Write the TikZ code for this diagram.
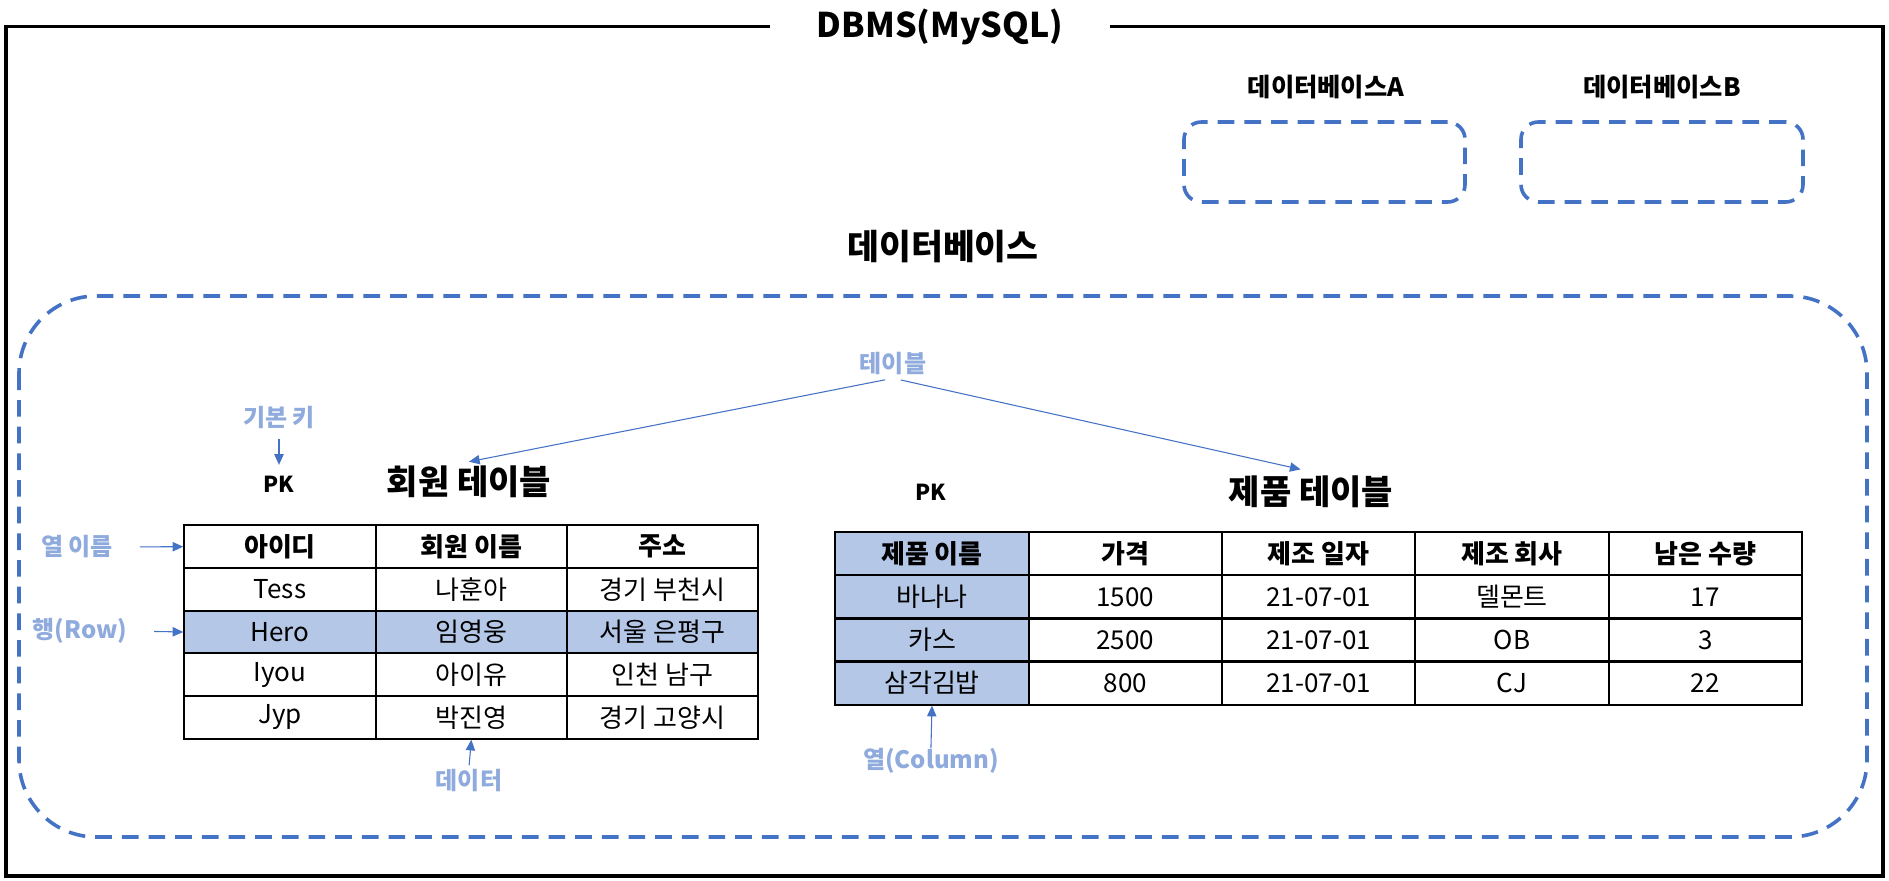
\documentclass[tikz,border=0pt]{standalone}
\usepackage{fontspec}
\setmainfont{Noto Sans CJK KR}
\usetikzlibrary{arrows.meta,matrix}
\definecolor{dashblue}{HTML}{4472C4}
\definecolor{lblue}{HTML}{8FAADC}
\definecolor{cellblue}{HTML}{B4C7E7}
\tikzset{
  dbox/.style={draw=dashblue, line width=2.7pt, dash pattern=on 12.5pt off 7.5pt, rounded corners=13pt},
  bigbox/.style={draw=dashblue, line width=2.7pt, dash pattern=on 12.5pt off 7.5pt, rounded corners=58pt},
  lbl/.style={text=lblue, font=\bfseries\fontsize{18}{21}\selectfont, inner sep=2pt},
  hdr/.style={font=\bfseries\fontsize{19}{22}\selectfont, inner sep=2pt},
  ttl/.style={font=\bfseries\fontsize{25.5}{29}\selectfont, inner sep=3pt},
  pklbl/.style={font=\bfseries\fontsize{16.5}{18}\selectfont, inner sep=2pt},
  arr/.style={draw=dashblue, line width=0.8pt, -{Triangle[length=8pt,width=7pt]}},
  cellA/.style={draw, line width=1.6pt, minimum width=143.5pt, minimum height=32pt, inner sep=0pt, anchor=center, font=\fontsize{19.5}{22}\selectfont},
  cellB/.style={draw, line width=1.6pt, minimum width=145pt, minimum height=32.3pt, inner sep=0pt, anchor=center, font=\fontsize{19.5}{22}\selectfont},
  hrow/.style={nodes={font=\bfseries\fontsize{19.5}{22}\selectfont}},
}
\begin{document}
\begin{tikzpicture}[x=0.75pt, y=-0.75pt]
\useasboundingbox (0,0) rectangle (1889,881);
% outer frame
\draw[line width=2.7pt] (6,26.5) rectangle (1883,876);
\node[fill=white, inner xsep=35pt, inner ysep=2pt, font=\bfseries\fontsize{25.5}{30}\selectfont] (title) at (940,26.5) {DBMS(MySQL)};
% databases A / B
\node[hdr] (dbA) at (1326,87) {데이터베이스A};
\node[hdr] (dbB) at (1662,87) {데이터베이스B};
\node[dbox, minimum width=210.75pt, minimum height=60pt] (boxA) at (1324.5,162) {};
\node[dbox, minimum width=211.5pt, minimum height=60pt] (boxB) at (1662,162) {};
% main database
\node[font=\bfseries\fontsize{26}{30}\selectfont] (db) at (943,247) {데이터베이스};
\draw[bigbox] (19,296) rectangle (1867,837);
% labels
\node[lbl] (tl) at (893,364) {테이블};
\node[lbl] (kk) at (279,417) {기본 키};
\node[pklbl] (pk1) at (279,484) {PK};
\node[ttl] (t1t) at (469,482) {회원 테이블};
\node[pklbl] (pk2) at (931,492) {PK};
\node[ttl] (t2t) at (1311,492) {제품 테이블};
\node[lbl] (cn) at (77,547) {열 이름};
\node[lbl] (rw) at (80,631) {행(Row)};
\node[lbl] (dt) at (469,781) {데이터};
\node[lbl] (col) at (931,761) {열(Column)};
% table 1
\matrix (ta) [matrix of nodes, anchor=north west, inner sep=0pt, column sep=-1.6pt, row sep=-1.6pt,
  nodes={cellA}, row 1/.style={hrow},
  row 3/.style={nodes={fill=cellblue}}] at (183,524) {
  아이디 & 회원 이름 & 주소 \\
  Tess & 나훈아 & 경기 부천시 \\
  Hero & 임영웅 & 서울 은평구 \\
  Iyou & 아이유 & 인천 남구 \\
  Jyp & 박진영 & 경기 고양시 \\
};
% table 2
\matrix (tb) [matrix of nodes, anchor=north west, inner sep=0pt, column sep=-1.6pt, row sep=-1.6pt,
  nodes={cellB}, row 1/.style={hrow},
  column 1/.style={nodes={fill=cellblue}}] at (834,531) {
  제품 이름 & 가격 & 제조 일자 & 제조 회사 & 남은 수량 \\
  바나나 & 1500 & 21-07-01 & 델몬트 & 17 \\
  카스 & 2500 & 21-07-01 & OB & 3 \\
  삼각김밥 & 800 & 21-07-01 & CJ & 22 \\
};
% arrows
\draw[arr, shorten <=6pt] (tl.south) -- (t1t.north);
\draw[arr, shorten <=6pt, shorten >=8pt] (tl.south) -- (t2t.north);
\draw[arr, shorten <=6pt, shorten >=6pt] (kk.south) -- (pk1.north);
\draw[arr, shorten <=18pt] (cn.east) -- (ta-1-1.west);
\draw[arr, shorten <=18pt] (rw.east) -- (ta-3-1.west);
\draw[arr, shorten <=1pt] (dt.north) -- (ta-5-2.south);
\draw[arr, shorten <=-2pt] (col.north) -- (tb-4-1.south);
\end{tikzpicture}
\end{document}
